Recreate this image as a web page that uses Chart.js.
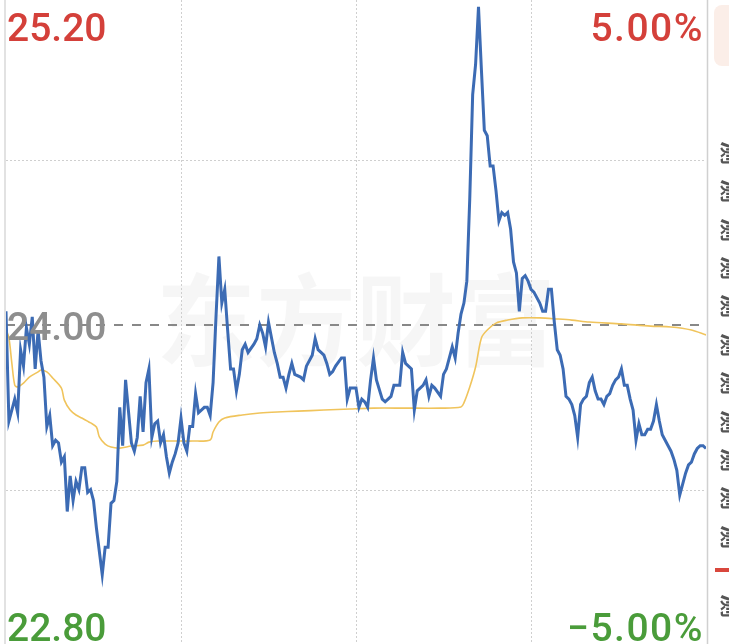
<!DOCTYPE html>
<html>
<head>
<meta charset="utf-8">
<style>
  html, body { margin: 0; padding: 0; background: #ffffff; }
  #wrap { width: 729px; height: 644px; position: relative; overflow: hidden; }
</style>
<script src="https://cdn.jsdelivr.net/npm/chart.js@4/dist/chart.umd.min.js"></script>
</head>
<body>
<div id="wrap"><canvas id="c" width="729" height="644"></canvas></div>
<script>
// ---- data ----
const prevClose = 24.00;
const priceMin = 22.837;
const priceMax = 25.185;
const topLabels = ["25.20", "5.00%"];
const midLabel = "24.00";
const bottomLabels = ["22.80", "\u22125.00%"];
const gridPrices = [23.40, 24.60];
const gridMinutes = [60, 120, 180];

const priceMinutes = [0,1,2,3,4,5,6,7,8,9,10,11,12,13,14,15,16,17,18,19,20,21,22,23,24,25,26,27,28,29,30,31,33,34,35,36,37,38,39,40,41,43,44,45,46,47,48,49,50,51,52,53,54,55,56,57,58,59,60,61,62,63,64,65,66,68,69,70,71,72,73,74,75,76,77,78,79,80,81,82,83,85,86,87,88,89,90,92,93,94,95,96,97,98,99,101,102,103,105,106,107,109,110,111,112,113,115,116,117,118,120,121,122,123,124,125,126,127,129,130,131,132,133,135,136,137,139,140,141,143,144,145,146,147,149,150,151,153,154,155,156,157,158,159,160,161,162,163,164,165,166,167,168,169,170,171,172,173,174,175,176,177,178,179,180,181,182,183,184,185,186,187,188,189,190,191,192,193,194,195,196,197,198,199,200,201,202,203,204,205,206,207,208,209,210,211,212,213,214,215,216,217,218,219,220,221,222,223,224,225,226,227,228,229,230,231,232,233,234,235,236,237,238,239,240];
const prices = [24.05,23.65,23.69,23.73,23.68,23.91,23.85,23.99,23.93,24.03,23.84,23.98,23.87,23.81,23.63,23.67,23.56,23.58,23.57,23.50,23.52,23.32,23.45,23.36,23.43,23.40,23.48,23.48,23.39,23.40,23.36,23.26,23.09,23.19,23.19,23.35,23.36,23.43,23.70,23.56,23.80,23.57,23.54,23.59,23.74,23.61,23.79,23.84,23.59,23.64,23.65,23.57,23.60,23.52,23.46,23.50,23.53,23.57,23.66,23.57,23.54,23.63,23.63,23.75,23.68,23.70,23.70,23.67,23.79,24.03,24.25,24.08,24.13,23.98,23.84,23.84,23.76,23.82,23.91,23.93,23.90,23.93,23.95,24.00,23.97,23.92,24.01,23.90,23.86,23.81,23.81,23.77,23.82,23.86,23.82,23.81,23.80,23.85,23.89,23.95,23.91,23.89,23.86,23.82,23.83,23.85,23.88,23.88,23.73,23.77,23.77,23.70,23.73,23.72,23.70,23.80,23.88,23.80,23.73,23.72,23.73,23.74,23.78,23.78,23.90,23.86,23.84,23.69,23.76,23.78,23.80,23.74,23.78,23.77,23.74,23.82,23.84,23.92,23.88,23.97,24.04,24.08,24.16,24.46,24.84,24.95,25.16,24.93,24.71,24.69,24.58,24.58,24.49,24.38,24.41,24.40,24.41,24.35,24.23,24.19,24.05,24.17,24.18,24.16,24.13,24.12,24.10,24.08,24.05,24.05,24.13,24.13,24.01,23.91,23.89,23.84,23.74,23.73,23.71,23.67,23.59,23.71,23.73,23.74,23.79,23.81,23.76,23.73,23.73,23.71,23.74,23.75,23.78,23.80,23.81,23.84,23.78,23.78,23.73,23.69,23.58,23.64,23.60,23.60,23.62,23.62,23.65,23.71,23.65,23.60,23.58,23.56,23.54,23.51,23.47,23.38,23.42,23.46,23.49,23.50,23.53,23.55,23.56,23.56,23.55];

const avgMinutes = [0,1,2,3,4,6,8,11,12,14,16,19,20,22,24,26,29,31,32,34,36,39,43,47,49,52,59,64,70,71,73,75,81,87,93,100,109,118,126,137,149,156,157,159,161,163,165,168,172,177,183,189,194,200,211,221,228,235,240];
const avgPrices = [23.982,23.953,23.861,23.781,23.774,23.788,23.810,23.829,23.836,23.829,23.807,23.770,23.726,23.690,23.672,23.661,23.643,23.628,23.592,23.566,23.555,23.551,23.559,23.562,23.573,23.577,23.577,23.577,23.581,23.610,23.646,23.661,23.672,23.679,23.683,23.686,23.690,23.694,23.697,23.697,23.697,23.701,23.716,23.774,23.847,23.953,23.982,24.007,24.018,24.026,24.026,24.022,24.018,24.011,24.004,23.996,23.993,23.982,23.964];

// ---- colours ----
const RED = '#d4403a';
const GREEN = '#4a9c3a';
const GRAY_TXT = '#8e8e8e';
const BLUE = '#3c6bb4';
const YELLOW = '#f0c45c';

const toPts = (xs, ys) => xs.map((m, i) => ({ x: m, y: ys[i] }));

const backdrop = {
  id: 'backdrop',
  beforeDatasetsDraw(chart) {
    const { ctx, chartArea, scales } = chart;
    const xs = scales.x, ys = scales.y;
    ctx.save();
    // watermark
    ctx.fillStyle = 'rgba(0,0,0,0.035)';
    ctx.font = 'bold 100px "Noto Sans CJK SC"';
    ctx.textAlign = 'center';
    ctx.textBaseline = 'middle';
    ctx.fillText('东方财富', (chartArea.left + chartArea.right) / 2, ys.getPixelForValue(prevClose) - 5);
    // dotted grid
    ctx.strokeStyle = '#cfcfcf';
    ctx.lineWidth = 1;
    ctx.setLineDash([2, 2]);
    gridPrices.forEach(p => {
      const y = Math.round(ys.getPixelForValue(p)) + 0.5;
      ctx.beginPath(); ctx.moveTo(chartArea.left, y); ctx.lineTo(chartArea.right, y); ctx.stroke();
    });
    gridMinutes.forEach(m => {
      const x = Math.round(xs.getPixelForValue(m)) + 0.5;
      ctx.beginPath(); ctx.moveTo(x, 0); ctx.lineTo(x, chart.height); ctx.stroke();
    });
    // dashed previous-close line
    ctx.strokeStyle = '#888888';
    ctx.lineWidth = 2;
    ctx.setLineDash([9, 9]);
    const yc = Math.round(ys.getPixelForValue(prevClose));
    ctx.beginPath(); ctx.moveTo(chartArea.left, yc); ctx.lineTo(chartArea.right, yc); ctx.stroke();
    ctx.setLineDash([]);
    // frame lines
    ctx.strokeStyle = '#e2e2e2';
    ctx.lineWidth = 2;
    ctx.beginPath(); ctx.moveTo(chartArea.left - 1, 0); ctx.lineTo(chartArea.left - 1, chart.height); ctx.stroke();
    ctx.strokeStyle = '#d0d0d0';
    ctx.lineWidth = 1.5;
    ctx.beginPath(); ctx.moveTo(chartArea.right + 1.5, 0); ctx.lineTo(chartArea.right + 1.5, chart.height); ctx.stroke();
    ctx.restore();
  },
  afterDraw(chart) {
    const { ctx, chartArea, scales } = chart;
    const ys = scales.y;
    ctx.save();
    ctx.font = '500 39px Roboto';
    ctx.textBaseline = 'alphabetic';
    ctx.textAlign = 'left';
    ctx.fillStyle = RED; ctx.fillText(topLabels[0], chartArea.left + 1, 41);
    ctx.fillStyle = GREEN; ctx.fillText(bottomLabels[0], chartArea.left + 1, 641);
    ctx.fillStyle = GRAY_TXT; ctx.fillText(midLabel, chartArea.left + 1, ys.getPixelForValue(prevClose) + 15);
    ctx.textAlign = 'right';
    if ('letterSpacing' in ctx) ctx.letterSpacing = '1.5px';
    ctx.fillStyle = RED; ctx.fillText(topLabels[1], chartArea.right - 2, 41);
    ctx.fillStyle = GREEN; ctx.fillText(bottomLabels[1], chartArea.right - 2, 641);
    if ('letterSpacing' in ctx) ctx.letterSpacing = '0px';
    // right side strip
    const sx = chartArea.right + 8;
    ctx.fillStyle = '#fbeee8';
    ctx.beginPath();
    if (ctx.roundRect) ctx.roundRect(sx, 5, 40, 61, 8); else ctx.rect(sx, 5, 40, 61);
    ctx.fill();
    ctx.fillStyle = '#555555';
    ctx.font = 'bold 24px "Noto Sans CJK SC"';
    ctx.textAlign = 'center';
    ctx.textBaseline = 'middle';
    const glyphY = [153, 191, 230, 268, 306, 345, 383, 422, 460, 498, 537, 606];
    glyphY.forEach(y => {
      ctx.save();
      ctx.translate(sx + 18, y);
      ctx.rotate(Math.PI / 2);
      ctx.fillText('测', 0, 0);
      ctx.restore();
    });
    ctx.fillStyle = '#d9473d';
    ctx.fillRect(sx + 1, 568, 20, 4);
    ctx.restore();
  }
};

new Chart(document.getElementById('c'), {
  type: 'line',
  data: {
    datasets: [
      {
        label: '价格',
        data: toPts(priceMinutes, prices),
        borderColor: BLUE,
        borderWidth: 3,
        pointRadius: 0,
        tension: 0,
        fill: false,
        order: 1
      },
      {
        label: '均价',
        data: toPts(avgMinutes, avgPrices),
        borderColor: YELLOW,
        borderWidth: 1.6,
        pointRadius: 0,
        tension: 0.3,
        fill: false,
        order: 2
      }
    ]
  },
  options: {
    responsive: false,
    animation: false,
    events: [],
    layout: { autoPadding: false, padding: { left: 6, right: 23, top: 0, bottom: 0 } },
    plugins: { legend: { display: false }, tooltip: { enabled: false } },
    scales: {
      x: { type: 'linear', min: 0, max: 240, display: false },
      y: { type: 'linear', min: priceMin, max: priceMax, display: false }
    }
  },
  plugins: [backdrop]
});
</script>
</body>
</html>
